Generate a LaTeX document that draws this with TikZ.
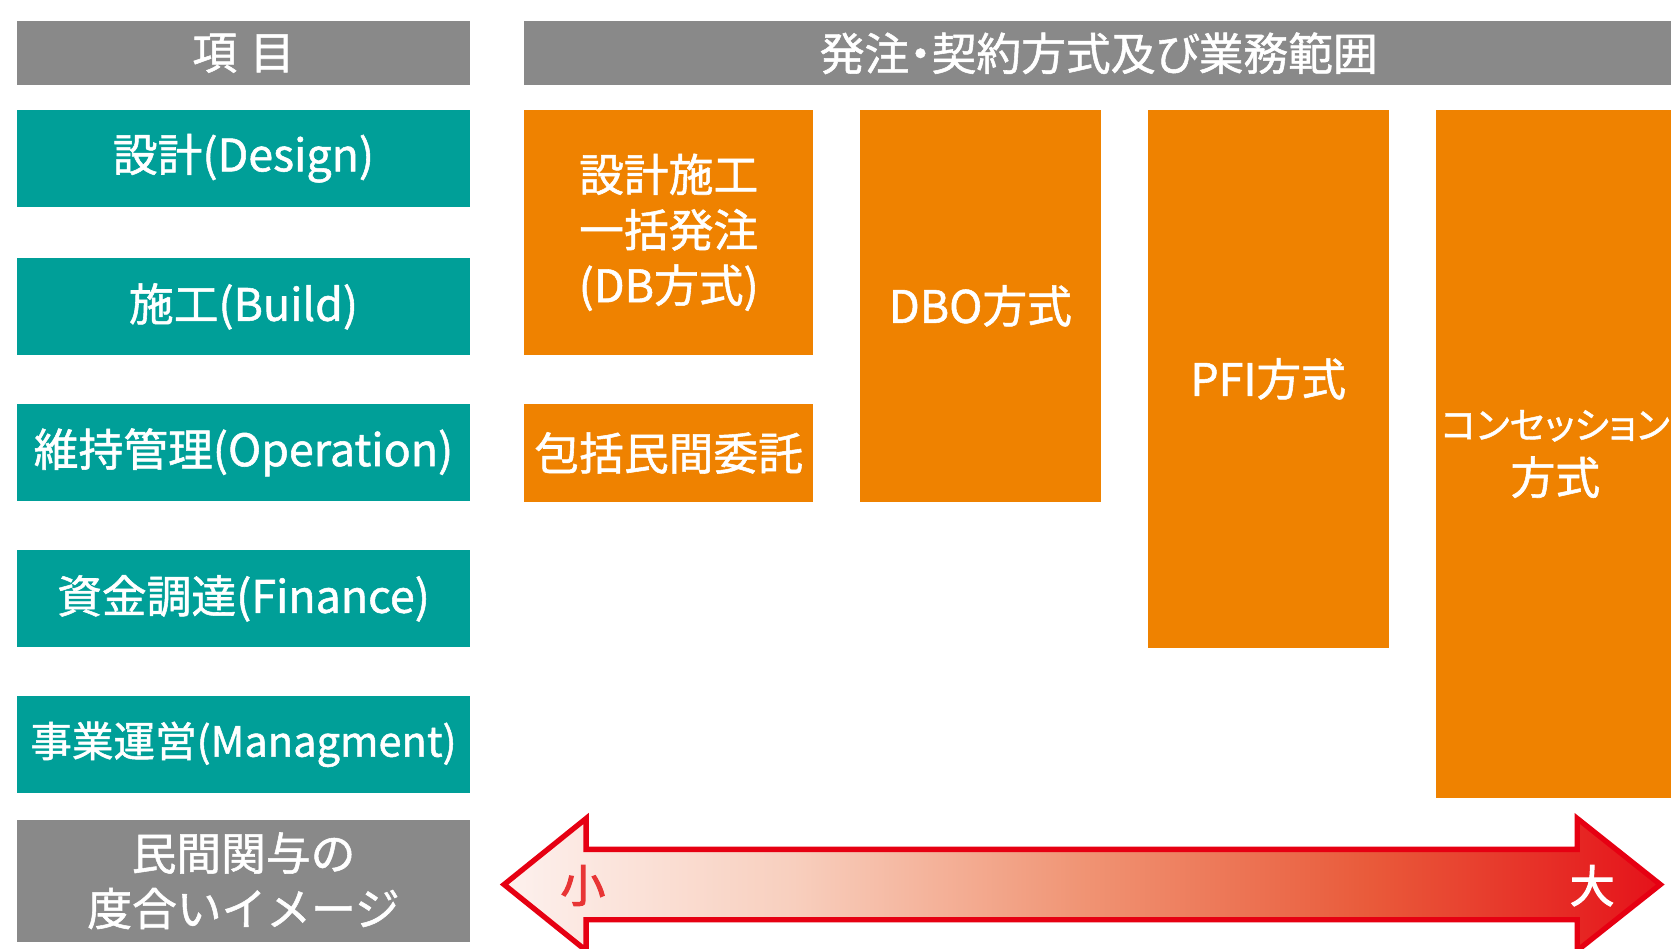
\documentclass[tikz,border=0pt]{standalone}
\usepackage{fontspec}
\setmainfont{Noto Sans CJK JP}[FakeBold=1.2]
\newfontfamily\paltfont{Noto Sans CJK JP}[RawFeature=+palt, FakeBold=1.2]
\newfontfamily\heavyfont{Noto Sans CJK JP}[FakeBold=2.5]
\definecolor{teal0}{HTML}{009F98}
\definecolor{orange0}{HTML}{EF8200}
\definecolor{gray0}{HTML}{898989}
\definecolor{red0}{HTML}{E60012}
\definecolor{sc0}{HTML}{FDF1EE}
\definecolor{sc1}{HTML}{F8CFBE}
\definecolor{sc2}{HTML}{F09474}
\definecolor{sc3}{HTML}{E95A3A}
\definecolor{sc4}{HTML}{E5121A}
\definecolor{small0}{HTML}{E83535}
\pgfdeclarehorizontalshading{arrowshade}{100bp}{color(0bp)=(sc0); color(25bp)=(sc0); color(37.5bp)=(sc1); color(50bp)=(sc2); color(62.5bp)=(sc3); color(75bp)=(sc4); color(100bp)=(sc4)}
\begin{document}
\begin{tikzpicture}[x=1pt,y=-1pt,
  cell/.style={anchor=north west, inner sep=0pt, outer sep=0pt, text=white, align=center,
    font=\fontsize{42}{52}\selectfont},
  graycell/.style={cell, fill=gray0},
  tealcell/.style={cell, fill=teal0},
  orcell/.style={cell, fill=orange0},
  sizelabel/.style={inner sep=0pt, font=\heavyfont\fontsize{42}{48}\selectfont}]
\useasboundingbox (0,0) rectangle (1568,890);
\clip (0,0) rectangle (1568,890);
% headers
\node[graycell, minimum width=425pt, minimum height=60pt] (hdrL) at (16,20) {項\hspace{12pt}目};
\node[graycell, minimum width=1078pt, minimum height=60pt] (hdrR) at (492,20) {\paltfont 発注・契約方式及び業務範囲};
% left items
\node[tealcell, minimum width=425pt, minimum height=91pt] (design) at (16,103) {設計(Design)};
\node[tealcell, minimum width=425pt, minimum height=91pt] (build) at (16,242) {施工(Build)};
\node[tealcell, minimum width=425pt, minimum height=91pt] (oper) at (16,379) {維持管理(Operation)};
\node[tealcell, minimum width=425pt, minimum height=91pt] (fin) at (16,516) {資金調達(Finance)};
\node[tealcell, minimum width=425pt, minimum height=91pt, font=\fontsize{39}{52}\selectfont] (mgmt) at (16,653) {事業運営(Managment)};
\node[graycell, minimum width=425pt, minimum height=115pt] (degree) at (16,769) {民間関与の\\度合いイメージ};
% orange schemes
\node[orcell, minimum width=271pt, minimum height=230pt] (db) at (492,103) {設計施工\\一括発注\\(DB方式)};
\node[orcell, minimum width=271pt, minimum height=92pt] (hokatsu) at (492,379) {包括民間委託};
\node[orcell, minimum width=226pt, minimum height=368pt] (dbo) at (807,103) {DBO方式};
\node[orcell, minimum width=226pt, minimum height=505pt] (pfi) at (1077,103) {PFI方式};
\node[orcell, minimum width=225pt, minimum height=646pt] (conc) at (1347,103) {{\paltfont\fontsize{35}{52}\selectfont コンセッション}\\方式};
% arrow
\path[shading=arrowshade]
  (473,830) -- (550,768) -- (550,797) -- (1480,797) -- (1480,768) -- (1558,830)
  -- (1480,892) -- (1480,863) -- (550,863) -- (550,892) -- cycle;
\draw[red0, line width=5pt, line join=miter]
  (473,830) -- (550,768) -- (550,797) -- (1480,797) -- (1480,768) -- (1558,830)
  -- (1480,892) -- (1480,863) -- (550,863) -- (550,892) -- cycle;
\node[sizelabel, text=small0] (small) at (547,831) {小};
\node[sizelabel, text=white] (large) at (1494,831) {大};
\end{tikzpicture}
\end{document}
